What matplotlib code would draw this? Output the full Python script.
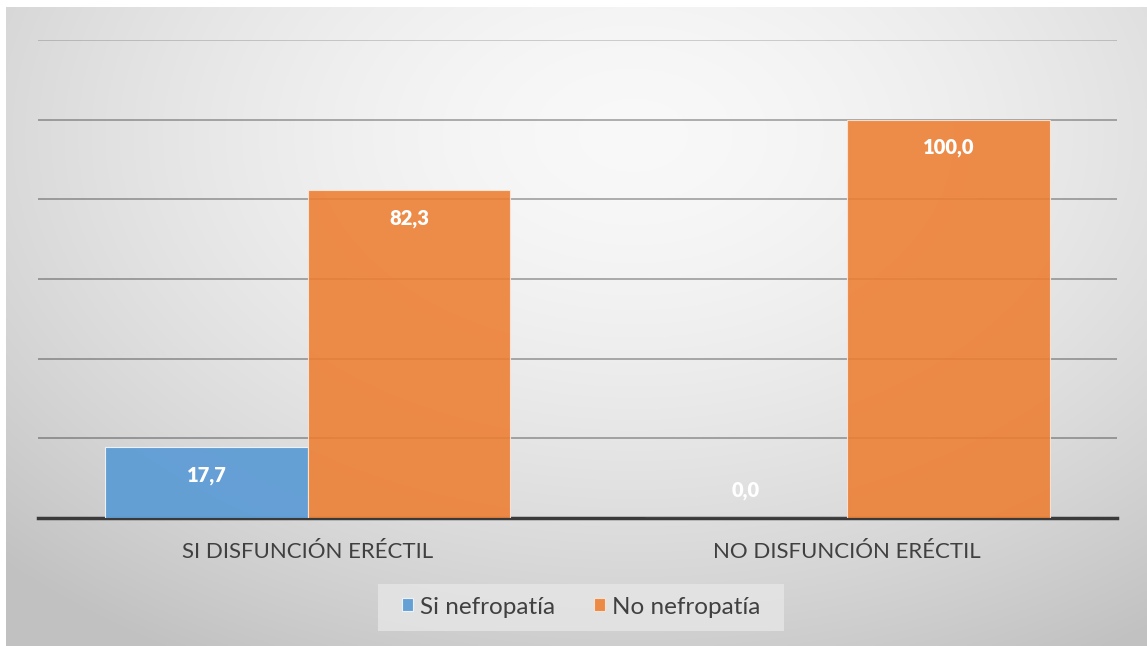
import numpy as np
import matplotlib.pyplot as plt
from matplotlib.patches import Rectangle

# data
categorias = ['SI DISFUNCIÓN ERÉCTIL', 'NO DISFUNCIÓN ERÉCTIL']
si_nefropatia = [17.7, 0.0]
no_nefropatia = [82.3, 100.0]
series_names = ['Si nefropatía', 'No nefropatía']

plt.rcParams['font.family'] = ['Lato', 'DejaVu Sans']

fig = plt.figure(figsize=(11.47, 6.46), dpi=100)

# gradient background (radial, light top-centre, grey at the edges)
bg = fig.add_axes([6 / 1147, 0, 1 - 6 / 1147, 1 - 7 / 646], zorder=0)
yy, xx = np.mgrid[0:1:300j, 0:1:500j]
r = np.sqrt(((xx - 0.55) / 0.75) ** 2 + ((yy - 0.2) / 0.9) ** 2)
shade = np.clip(0.975 - 0.2 * r ** 1.6, 0.76, 0.975)
bg.imshow(np.dstack([shade] * 3), aspect='auto', extent=[0, 1, 1, 0])
bg.axis('off')

ax = fig.add_axes([38 / 1147, 1 - 518 / 646, 1079 / 1147, 478 / 646], zorder=1)
ax.patch.set_alpha(0)

x = np.arange(len(categorias))
w = 0.375
b1 = ax.bar(x - w / 2, si_nefropatia, w, color='#5B9BD5', alpha=0.92,
            edgecolor='#f2f6fb', linewidth=0.8, label=series_names[0], zorder=3)
b2 = ax.bar(x + w / 2, no_nefropatia, w, color='#ED7D31', alpha=0.88,
            edgecolor='#fbe8da', linewidth=0.8, label=series_names[1], zorder=3)

for bars in (b1, b2):
    for rect in bars:
        v = rect.get_height()
        off = -28 if v > 0 else 27
        ax.annotate(f'{v:.1f}'.replace('.', ','),
                    (rect.get_x() + rect.get_width() / 2, v),
                    xytext=(0, off), textcoords='offset pixels',
                    ha='center', va='center', color='white',
                    fontsize=14.5, fontweight='heavy', zorder=4)

ax.set_xlim(-0.5, 1.5)
ax.set_ylim(0, 120)
ax.set_yticks([20, 40, 60, 80, 100, 120])
ax.yaxis.grid(True, color='black', alpha=0.3, linewidth=1.4, zorder=0)
ax.get_ygridlines()[-1].set_alpha(0.17)
ax.set_axisbelow(True)
ax.tick_params(axis='y', length=0, labelleft=False)
ax.tick_params(axis='x', length=0, pad=17, labelsize=16, labelcolor='#404040')
ax.set_xticks(x)
ax.set_xticklabels(categorias)
for s in ['top', 'left', 'right']:
    ax.spines[s].set_visible(False)
ax.spines['bottom'].set_color('#3a3a3a')
ax.spines['bottom'].set_linewidth(2.5)

leg = fig.legend(loc='center', bbox_to_anchor=(581 / 1147, 1 - 607 / 646),
                 ncol=2, frameon=False, fontsize=17.5, handlelength=0.45,
                 handleheight=0.45, handletextpad=0.3, columnspacing=1.6,
                 borderpad=0, borderaxespad=0)
leg.set_zorder(5)
for t in leg.get_texts():
    t.set_color('#404040')

# legend background box, drawn by hand so the side padding can differ
fig.canvas.draw()
bb = leg.get_window_extent().transformed(fig.transFigure.inverted())
px, py = 24 / 1147, 13 / 646
fig.add_artist(Rectangle((bb.x0 - px, bb.y0 - py), bb.width + 2 * px,
                         bb.height + 2 * py, transform=fig.transFigure,
                         facecolor='#e6e6e6', alpha=0.8, edgecolor='none',
                         zorder=4))

fig.savefig('out.png', dpi=100)
